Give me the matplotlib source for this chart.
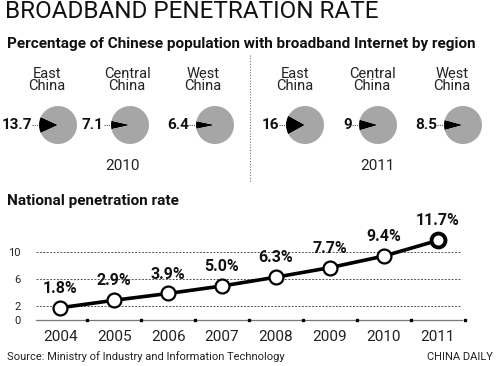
import matplotlib
matplotlib.use("Agg")
import matplotlib.pyplot as plt

# data
regions = ["East\nChina", "Central\nChina", "West\nChina"]
share_2010 = [13.7, 7.1, 6.4]
share_2011 = [16, 9, 8.5]
share_labels_2010 = ["13.7", "7.1", "6.4"]
share_labels_2011 = ["16", "9", "8.5"]
years = [2004, 2005, 2006, 2007, 2008, 2009, 2010, 2011]
rate = [1.8, 2.9, 3.9, 5.0, 6.3, 7.7, 9.4, 11.7]
rate_labels = ["1.8%", "2.9%", "3.9%", "5.0%", "6.3%", "7.7%", "9.4%", "11.7%"]

plt.rcParams['font.family'] = ['Roboto', 'DejaVu Sans']

W, H = 500, 366
fig = plt.figure(figsize=(W / 100, H / 100), dpi=100)


def fx(px):
    return px / W


def fy(py):
    return 1 - py / H


# titles
fig.text(fx(5), fy(12), "BROADBAND PENETRATION RATE", fontsize=17.5, fontweight='normal',
         va='center', ha='left', color='#111111')
fig.text(fx(7), fy(44), "Percentage of Chinese population with broadband Internet by region",
         fontsize=11, fontweight='bold', va='center', ha='left', color='#111111')

# pies
R = 19
pie_x = [[58, 130, 215], [305, 378, 463]]
label_x = [[47, 127, 203], [295, 372, 452]]
pie_y = 125
for k, (vals, labs) in enumerate([(share_2010, share_labels_2010), (share_2011, share_labels_2011)]):
    for i in range(3):
        cx = pie_x[k][i]
        ax = fig.add_axes([fx(cx - R), fy(pie_y + R), 2 * R / W, 2 * R / H])
        v = vals[i]
        ax.pie([v, 100 - v], colors=['black', '#a6a6a6'], startangle=180 - v * 1.8,
               counterclock=True, radius=1, wedgeprops=dict(linewidth=0))
        ax.set_xlim(-1, 1)
        ax.set_ylim(-1, 1)
        ax.set_aspect('equal')
        ax.axis('off')
        ax.plot([-1.35, -1.0], [0, 0], ls=(0, (1, 1)), color='#555555', lw=0.8, clip_on=False)
        ax.text(-1.38, 0, labs[i], ha='right', va='center', fontsize=11, fontweight='bold',
                color='#111111')
        fig.text(fx(label_x[k][i]), fy(80), regions[i], ha='center', va='center',
                 fontsize=10.5, fontweight='normal', linespacing=0.9, color='#222222')

fig.text(fx(122), fy(166), "2010", ha='center', va='center', fontsize=11, color='#222222')
fig.text(fx(377), fy(166), "2011", ha='center', va='center', fontsize=11, color='#222222')
fig.add_artist(plt.Line2D([fx(250), fx(250)], [fy(55), fy(182)], ls=(0, (1, 1.5)),
                          color='#777777', lw=0.8, transform=fig.transFigure))

fig.text(fx(7), fy(201), "National penetration rate", fontsize=11, fontweight='bold',
         va='center', ha='left', color='#111111')

# line chart
ax = fig.add_axes([fx(36), fy(320), (462 - 36) / W, (320 - 225) / H])
ax.set_xlim(2003.55, 2011.45)
ax.set_ylim(0, 95 / 6.8)
for s in ax.spines.values():
    s.set_visible(False)
ax.axhline(0, color='#777777', lw=0.9, clip_on=False)
for g in [2, 6, 10]:
    ax.axhline(g, color='#555555', lw=0.7, ls=(0, (2, 1.5)))
ax.plot([y + 0.5 for y in years], [0] * len(years), 's', ms=2, color='black', clip_on=False)
ax.plot(years, rate, color='black', lw=2.6, zorder=3, clip_on=False)
ax.plot(years[:-1], rate[:-1], 'o', ms=10, mfc='white', mec='black', mew=1.6, zorder=4,
        clip_on=False)
ax.plot(years[-1:], rate[-1:], 'o', ms=10, mfc='white', mec='black', mew=2.8, zorder=4,
        clip_on=False)
for x, y, t in zip(years, rate, rate_labels):
    ax.annotate(t, (x, y), xytext=(0, 14), textcoords='offset points', ha='center',
                va='center', fontsize=11.5, fontweight='bold', color='#111111')
ax.set_xticks(years)
ax.set_xticklabels([str(y) for y in years], fontsize=11, color='#222222')
ax.tick_params(axis='x', length=0, pad=7)
ax.set_yticks([0, 2, 6, 10])
ax.set_yticklabels(['0', '2', '6', '10'], fontsize=8, color='#222222')
ax.tick_params(axis='y', length=0, pad=11)

fig.text(fx(7), fy(357), "Source: Ministry of Industry and Information Technology",
         fontsize=8, va='center', ha='left', color='#222222')
fig.text(fx(493), fy(357), "CHINA DAILY", fontsize=8, va='center', ha='right', color='#222222')

fig.savefig("out.png", dpi=100)
